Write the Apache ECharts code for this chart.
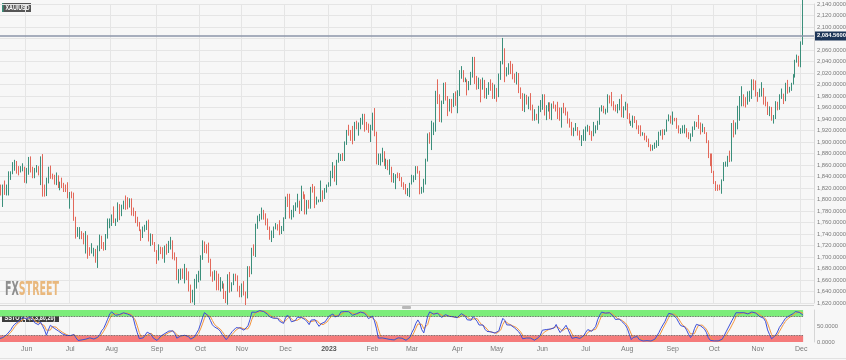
<!DOCTYPE html>
<html><head><meta charset="utf-8">
<script src="https://cdn.jsdelivr.net/npm/echarts/dist/echarts.min.js"></script>
<style>html,body{margin:0;padding:0;background:#f7f7f7}#c{width:846px;height:360px}</style>
</head><body><div id="c"></div><script>
// ---- DATA: daily XAU/USD candles [open, close, low, high] ----
const warmup2204 = [[1979,1950,1945,1983],[1950,1958,1940,1962],[1958,1951,1939,1962],[1951,1931,1928,1957],[1931,1898,1891,1936],[1898,1905,1893,1911],[1905,1886,1881,1909],[1886,1894,1872,1898],[1894,1896,1888,1920],[1896,1863,1850,1898],[1863,1868,1851,1872],[1868,1881,1866,1887],[1881,1876,1866,1909],[1876,1883,1868,1889],[1883,1854,1852,1885],[1854,1838,1833,1860],[1838,1852,1832,1858]];
const m2205 = [[1852,1821,1808,1858],[1822,1811,1807,1826],[1811,1824,1787,1826],[1824,1815,1808,1833],[1815,1816,1807,1826],[1816,1841,1807,1849],[1841,1846,1834,1849],[1846,1853,1844,1865],[1853,1866,1850,1869],[1866,1853,1845,1867],[1853,1851,1842,1858],[1851,1853,1847,1858],[1853,1855,1849,1863],[1855,1837,1829,1857]];
const m2206 = [[1837,1848,1828,1855],[1848,1869,1843,1874],[1869,1851,1847,1875],[1851,1841,1837,1857],[1841,1852,1837,1855],[1852,1853,1847,1860],[1853,1848,1842,1858],[1848,1871,1825,1875],[1871,1819,1805,1879],[1819,1809,1805,1826],[1809,1834,1806,1838],[1834,1857,1828,1857],[1857,1840,1836,1859],[1840,1838,1835,1845],[1838,1832,1826,1843],[1832,1838,1825,1847],[1838,1822,1820,1842],[1822,1827,1816,1831],[1827,1823,1820,1838],[1823,1820,1813,1829],[1820,1818,1813,1826],[1818,1807,1802,1830]];
const m2207 = [[1807,1811,1784,1813],[1811,1808,1802,1814],[1808,1764,1763,1812],[1764,1739,1732,1770],[1739,1741,1735,1752],[1741,1742,1731,1752],[1742,1734,1731,1745],[1734,1725,1722,1742],[1725,1735,1706,1745],[1735,1709,1697,1738],[1709,1708,1702,1717],[1708,1709,1706,1724],[1709,1711,1701,1716],[1711,1696,1690,1714],[1696,1719,1681,1720],[1719,1727,1710,1739],[1727,1719,1714,1737],[1719,1717,1711,1726],[1717,1735,1712,1740],[1735,1756,1732,1767],[1756,1765,1750,1767]];
const m2208 = [[1765,1772,1754,1774],[1772,1760,1759,1788],[1760,1765,1754,1767],[1765,1791,1761,1795],[1791,1775,1764,1792],[1775,1789,1771,1791],[1789,1794,1783,1798],[1794,1792,1782,1807],[1792,1789,1783,1804],[1789,1802,1786,1802],[1802,1779,1772,1802],[1779,1775,1771,1786],[1775,1761,1759,1780],[1761,1758,1753,1770],[1758,1747,1745,1761],[1747,1736,1728,1748],[1736,1748,1733,1753],[1748,1751,1744,1756],[1751,1758,1747,1763],[1758,1737,1727,1765],[1737,1738,1719,1741],[1738,1723,1721,1740],[1723,1711,1709,1726]];
const m2209 = [[1711,1697,1688,1712],[1697,1712,1694,1722],[1712,1710,1705,1718],[1710,1702,1697,1717],[1702,1718,1690,1720],[1718,1708,1704,1723],[1708,1717,1707,1728],[1717,1725,1713,1735],[1725,1702,1696,1729],[1702,1697,1694,1708],[1697,1665,1660,1700],[1665,1675,1654,1679],[1675,1675,1660,1680],[1675,1664,1662,1680],[1664,1674,1654,1688],[1674,1671,1660,1681],[1671,1644,1640,1675],[1644,1622,1620,1652],[1622,1629,1621,1643],[1629,1660,1615,1662],[1660,1660,1645,1670],[1660,1660,1656,1676]];
const m2210 = [[1660,1699,1659,1703],[1699,1725,1695,1729],[1725,1716,1707,1727],[1716,1712,1706,1722],[1712,1695,1690,1725],[1695,1668,1666,1697],[1668,1666,1657,1675],[1666,1673,1659,1677],[1673,1666,1642,1676],[1666,1644,1642,1671],[1644,1650,1640,1665],[1650,1652,1645,1658],[1652,1629,1627,1654],[1629,1627,1620,1641],[1627,1657,1617,1670],[1657,1649,1638,1674],[1649,1652,1640,1656],[1652,1665,1651,1671],[1665,1663,1658,1671],[1663,1645,1640,1668],[1645,1633,1630,1650]];
const m2211 = [[1633,1648,1630,1654],[1648,1635,1633,1658],[1635,1630,1616,1640],[1630,1681,1628,1684],[1681,1676,1665,1684],[1676,1712,1670,1716],[1712,1706,1702,1722],[1706,1755,1700,1758],[1755,1771,1749,1772],[1771,1771,1762,1775],[1771,1777,1765,1786],[1777,1774,1765,1782],[1774,1762,1755,1776],[1762,1751,1747,1767],[1751,1738,1730,1753],[1738,1740,1726,1746],[1740,1750,1733,1753],[1750,1755,1748,1759],[1755,1754,1746,1757],[1754,1741,1738,1764],[1741,1749,1740,1754],[1749,1768,1745,1769]];
const m2212 = [[1768,1803,1766,1805],[1803,1797,1787,1810],[1797,1769,1767,1810],[1769,1771,1765,1782],[1771,1787,1769,1790],[1787,1789,1780,1795],[1789,1797,1786,1810],[1797,1781,1775,1798],[1781,1810,1780,1824],[1810,1807,1801,1814],[1807,1777,1774,1809],[1777,1793,1774,1799],[1793,1788,1784,1799],[1788,1817,1784,1822],[1817,1813,1812,1827],[1813,1792,1785,1823],[1792,1798,1791,1805],[1798,1798,1795,1800],[1798,1814,1796,1833],[1814,1804,1796,1816],[1804,1815,1801,1820],[1815,1824,1812,1826]];
const m2301 = [[1824,1826,1822,1830],[1826,1839,1823,1850],[1839,1855,1837,1865],[1855,1833,1831,1859],[1833,1865,1825,1869],[1865,1872,1864,1881],[1872,1877,1867,1879],[1877,1876,1867,1881],[1876,1896,1867,1901],[1896,1920,1895,1921],[1920,1916,1911,1930],[1916,1908,1902,1921],[1908,1904,1896,1928],[1904,1932,1902,1935],[1932,1926,1922,1937],[1926,1931,1911,1934],[1931,1937,1922,1942],[1937,1946,1930,1949],[1946,1929,1918,1949],[1929,1928,1921,1935],[1928,1923,1916,1932],[1923,1928,1900,1930]];
const m2302 = [[1928,1951,1920,1951],[1951,1912,1910,1959],[1912,1865,1861,1918],[1865,1867,1860,1880],[1867,1873,1859,1880],[1873,1876,1865,1890],[1876,1861,1858,1884],[1861,1865,1853,1871],[1865,1854,1851,1869],[1854,1854,1843,1870],[1854,1836,1830,1857],[1836,1836,1829,1846],[1836,1842,1818,1844],[1842,1841,1837,1847],[1841,1835,1832,1846],[1835,1825,1822,1839],[1825,1822,1817,1830],[1822,1811,1809,1827],[1811,1817,1806,1820],[1817,1827,1804,1829]];
const m2303 = [[1827,1836,1826,1843],[1836,1836,1830,1842],[1836,1856,1834,1858],[1856,1847,1845,1858],[1847,1813,1809,1850],[1813,1814,1810,1822],[1814,1831,1812,1836],[1831,1868,1826,1871],[1868,1913,1866,1915],[1913,1904,1897,1917],[1904,1918,1886,1937],[1918,1919,1912,1934],[1919,1989,1918,1989],[1989,1978,1966,2009],[1978,1941,1935,1983],[1941,1969,1934,1972],[1969,1993,1966,2003],[1993,1978,1972,2004],[1978,1956,1945,1980],[1956,1973,1953,1975],[1973,1964,1950,1975],[1964,1980,1961,1985],[1980,1969,1963,1988]];
const m2304 = [[1969,1985,1950,1990],[1985,2020,1980,2025],[2020,2021,2010,2032],[2021,2008,2004,2025],[2008,2008,2004,2012],[2008,1990,1981,2009],[1990,2003,1990,2006],[2003,2015,1999,2022],[2015,2040,2012,2048],[2040,2004,2001,2048],[2004,1995,1991,2015],[1995,2007,1992,2012],[2007,1995,1969,2009],[1995,2004,1991,2012],[2004,1983,1976,2008],[1983,1990,1975,1994],[1990,1998,1982,2004],[1998,1994,1989,2009],[1994,1989,1975,2003],[1989,1990,1975,2000]];
const m2305 = [[1990,1983,1970,1994],[1983,2017,1978,2019],[2017,2039,2008,2041],[2039,2050,2035,2081],[2050,2016,2004,2063],[2016,2021,2014,2030],[2021,2034,2017,2037],[2034,2030,2018,2041],[2030,2015,2009,2036],[2015,2011,2003,2019],[2011,2017,2000,2022],[2017,1989,1985,2020],[1989,1982,1975,1995],[1982,1957,1954,1985],[1957,1978,1952,1984],[1978,1971,1965,1982],[1971,1975,1957,1979],[1975,1957,1955,1985],[1957,1941,1937,1965],[1941,1946,1937,1957],[1946,1943,1938,1949],[1943,1959,1932,1963],[1959,1962,1952,1973]];
const m2306 = [[1962,1978,1956,1983],[1978,1948,1946,1983],[1948,1962,1938,1964],[1962,1963,1953,1969],[1963,1940,1940,1969],[1940,1965,1938,1967],[1965,1961,1958,1971],[1961,1957,1953,1965],[1957,1943,1940,1970],[1943,1942,1937,1960],[1942,1958,1925,1960],[1958,1957,1950,1968],[1957,1951,1946,1960],[1951,1936,1932,1953],[1936,1932,1925,1941],[1932,1913,1911,1935],[1913,1921,1910,1925],[1921,1923,1919,1933],[1923,1914,1911,1926],[1914,1907,1903,1920],[1907,1908,1893,1912],[1908,1919,1902,1922]];
const m2307 = [[1919,1922,1902,1927],[1922,1926,1918,1930],[1926,1915,1912,1928],[1915,1911,1902,1919],[1911,1925,1910,1935],[1925,1925,1915,1929],[1925,1932,1921,1937],[1932,1957,1930,1960],[1957,1961,1953,1964],[1961,1955,1950,1963],[1955,1955,1948,1958],[1955,1979,1951,1983],[1979,1976,1967,1981],[1976,1969,1962,1987],[1969,1962,1955,1971],[1962,1954,1953,1965],[1954,1965,1950,1966],[1965,1972,1955,1975],[1972,1945,1943,1983],[1945,1959,1942,1962],[1959,1965,1955,1970]];
const m2308 = [[1965,1944,1940,1967],[1944,1934,1932,1950],[1934,1934,1928,1937],[1934,1943,1925,1946],[1943,1936,1933,1945],[1936,1925,1922,1938],[1925,1915,1914,1929],[1915,1912,1910,1929],[1912,1914,1911,1917],[1914,1907,1903,1916],[1907,1902,1900,1911],[1902,1892,1891,1906],[1892,1889,1884,1896],[1889,1889,1885,1895],[1889,1894,1888,1899],[1894,1898,1890,1903],[1898,1915,1893,1918],[1915,1917,1911,1921],[1917,1914,1904,1922],[1914,1920,1912,1922],[1920,1938,1918,1939],[1938,1942,1936,1948],[1942,1940,1932,1946]];
const m2309 = [[1940,1940,1930,1953],[1940,1938,1936,1942],[1938,1926,1923,1942],[1926,1916,1915,1929],[1916,1919,1914,1924],[1919,1919,1915,1929],[1919,1922,1915,1930],[1922,1913,1908,1924],[1913,1907,1905,1917],[1907,1910,1901,1915],[1910,1924,1909,1927],[1924,1934,1921,1936],[1934,1931,1926,1935],[1931,1930,1923,1947],[1930,1919,1913,1934],[1919,1925,1917,1932],[1925,1916,1914,1926],[1916,1901,1898,1917],[1901,1874,1872,1903],[1874,1864,1858,1880],[1864,1849,1846,1880]];
const m2310 = [[1849,1828,1827,1850],[1828,1822,1815,1832],[1822,1821,1815,1826],[1821,1820,1816,1826],[1820,1833,1810,1835],[1833,1861,1832,1865],[1861,1861,1857,1866],[1861,1874,1857,1876],[1874,1868,1865,1885],[1868,1933,1866,1933],[1933,1920,1908,1938],[1920,1923,1913,1934],[1923,1947,1922,1963],[1947,1974,1937,1980],[1974,1981,1962,1997],[1981,1973,1962,1983],[1973,1970,1960,1978],[1970,1979,1965,1988],[1979,1985,1970,1989],[1985,2006,1975,2009],[2006,1996,1990,2009],[1996,1983,1979,2007]];
const m2311 = [[1983,1982,1970,1987],[1982,1985,1978,1993],[1985,1992,1979,2004],[1992,1978,1965,1994],[1978,1969,1962,1979],[1969,1950,1947,1970],[1950,1958,1945,1962],[1958,1940,1937,1961],[1940,1946,1932,1947],[1946,1963,1940,1971],[1963,1959,1955,1970],[1959,1980,1956,1983],[1980,1981,1975,1993],[1981,1978,1966,1984],[1978,1998,1971,2003],[1998,1990,1984,2008],[1990,1992,1986,1996],[1992,2002,1989,2003],[2002,2014,2000,2018],[2014,2041,2012,2043],[2041,2044,2038,2052],[2044,2036,2031,2050]];
const m2312 = [[2036,2072,2030,2075],[2072,2084.56,2069,2148]];
const currentPrice = 2084.56;
const firstDate = '2022-05-12';
const padDays = 5;
const monthNames = ['Jan','Feb','Mar','Apr','May','Jun','Jul','Aug','Sep','Oct','Nov','Dec'];
const yTicks = {min:1620, max:2140, step:20};
const stochBands = {upper:80, lower:20};

// ---- build ----
const ohlc = [].concat(m2205,m2206,m2207,m2208,m2209,m2210,m2211,m2212,m2301,m2302,m2303,m2304,m2305,m2306,m2307,m2308,m2309,m2310,m2311,m2312);
const dates = [];
(function(){
  let d = new Date(firstDate + 'T00:00:00Z');
  while (dates.length < ohlc.length + padDays) {
    const wd = d.getUTCDay();
    if (wd !== 0 && wd !== 6) dates.push(d.toISOString().slice(0,10));
    d = new Date(d.getTime() + 86400000);
  }
})();
// slow stochastic (14,3,3) computed from the candles
const all = warmup2204.concat(ohlc);
const P = 14;
const rawK = all.map((d,i)=>{
  if (i < P-1) return null;
  let hh=-Infinity, ll=Infinity;
  for (let j=i-P+1;j<=i;j++){ hh=Math.max(hh,all[j][3]); ll=Math.min(ll,all[j][2]); }
  return hh===ll?50:100*(d[1]-ll)/(hh-ll);
});
function sma(arr,n){ return arr.map((v,i)=>{ if(i<n-1) return null; let s=0; for(let j=i-n+1;j<=i;j++){ if(arr[j]==null) return null; s+=arr[j]; } return s/n; }); }
const slowK = sma(rawK,3), slowD = sma(slowK,3);
const kLine = slowK.slice(warmup2204.length), dLine = slowD.slice(warmup2204.length);

function fmt4(v){ const s=Number(v).toFixed(4); const p=s.split('.'); return p[0].replace(/\B(?=(\d{3})+(?!\d))/g, ',')+'.'+p[1]; }
function isMonthStart(idx){ return idx>0 && dates[idx] && dates[idx].slice(5,7)!==dates[idx-1].slice(5,7); }

// pick a narrow font for the price scale if one is installed
const FONT='"Liberation Sans", Arial, sans-serif';
let AXFONT = FONT, AXSIZE = 5.8;
(function(){
  const ctx = document.createElement('canvas').getContext('2d');
  ctx.font = '20px monospace'; const w0 = ctx.measureText('2,140.0000').width;
  ctx.font = '20px "Liberation Sans Narrow", monospace'; const w1 = ctx.measureText('2,140.0000').width;
  if (Math.abs(w1 - w0) > 0.5) { AXFONT = '"Liberation Sans Narrow", "Liberation Sans", sans-serif'; AXSIZE = 6.8; }
})();

const UP='#3b8f7b', DOWN='#e2685a', GRIDC='#e5e5e5', LBL='#7a7a7a';
const lastIdx = ohlc.length-1;

const chart = echarts.init(document.getElementById('c'), null, {renderer:'canvas'});
chart.setOption({
  animation:false,
  backgroundColor:'#f7f7f7',
  textStyle:{fontFamily:FONT},
  grid:[
    {left:-2, right:32, top:4, height:299, containLabel:false, outerBoundsMode:'none'},
    {left:-2, right:32, top:310, height:32, containLabel:false, outerBoundsMode:'none'}
  ],
  xAxis:[
    {type:'category', gridIndex:0, data:dates, boundaryGap:true,
     axisLine:{show:false}, axisTick:{show:false}, axisLabel:{show:false},
     splitLine:{show:true, interval:(i)=>isMonthStart(i), lineStyle:{color:GRIDC, width:1}}},
    {type:'category', gridIndex:1, data:dates, boundaryGap:true,
     axisLine:{show:false}, axisTick:{show:false},
     axisLabel:{show:true, interval:(i)=>isMonthStart(i), fontSize:7, color:LBL, margin:4, fontFamily:FONT, hideOverlap:false,
       formatter:(v)=>{ const m=+v.slice(5,7)-1; return m===0?'{y|'+v.slice(0,4)+'}':monthNames[m]; },
       rich:{y:{fontSize:7, fontWeight:'bold', color:'#555', fontFamily:FONT}}},
     splitLine:{show:true, interval:(i)=>isMonthStart(i), lineStyle:{color:GRIDC, width:1}}}
  ],
  yAxis:[
    {type:'value', gridIndex:0, position:'right', min:yTicks.min, max:yTicks.max, interval:yTicks.step,
     axisLine:{show:true, lineStyle:{color:'#d6d6d6'}}, axisTick:{show:false},
     axisLabel:{fontSize:AXSIZE, color:LBL, margin:3, fontFamily:AXFONT, formatter:fmt4, hideOverlap:false},
     splitLine:{show:true, lineStyle:{color:GRIDC, width:1}}},
    {type:'value', gridIndex:1, position:'right', min:0, max:100, interval:50,
     axisLine:{show:true, lineStyle:{color:'#d6d6d6'}}, axisTick:{show:false},
     axisLabel:{fontSize:AXSIZE, color:LBL, margin:3, fontFamily:AXFONT, formatter:(v)=>v===100?'':fmt4(v)},
     splitLine:{show:false}}
  ],
  series:[
    {type:'candlestick', name:'XAU/USD', xAxisIndex:0, yAxisIndex:0, data:ohlc, clip:false,
     barWidth:'55%',
     itemStyle:{color:UP, color0:DOWN, borderColor:UP, borderColor0:DOWN, borderWidth:1},
     markLine:{silent:true, symbol:['none','none'],
       lineStyle:{color:'#8d96aa', width:1.5, type:'solid'},
       label:{show:true, position:'end', distance:1, formatter:()=>fmt4(currentPrice),
         color:'#fff', backgroundColor:'#1d3558', padding:[2,3,1,2], fontSize:AXSIZE, fontWeight:'bold', fontFamily:AXFONT},
       data:[{yAxis:currentPrice}]}},
    {type:'line', name:'%D', xAxisIndex:1, yAxisIndex:1, data:dLine, showSymbol:false, symbol:'none',
     lineStyle:{color:'#f2963f', width:1}, z:3,
     markLine:{silent:true, symbol:['none','none'], label:{show:false},
       lineStyle:{color:'#444', width:0.8, type:'dotted'},
       data:[
         [{coord:[dates[0],stochBands.upper]},{coord:[dates[lastIdx],stochBands.upper]}],
         [{coord:[dates[0],stochBands.lower]},{coord:[dates[lastIdx],stochBands.lower]}]
       ]}},
    {type:'line', name:'%K', xAxisIndex:1, yAxisIndex:1, data:kLine, showSymbol:false, symbol:'none',
     lineStyle:{color:'#3c4fd8', width:1}, z:4,
     markArea:{silent:true,
       data:[
         [{xAxis:dates[0], yAxis:stochBands.upper, itemStyle:{color:'#7ced7a'}},{xAxis:dates[lastIdx], yAxis:100}],
         [{xAxis:dates[0], yAxis:0, itemStyle:{color:'#f57b7b'}},{xAxis:dates[lastIdx], yAxis:stochBands.lower}]
       ]}}
  ],
  graphic:[
    {type:'line', shape:{x1:0,y1:305.5,x2:814,y2:305.5}, style:{stroke:'#d2d2d2', lineWidth:1}, z:10},
    {type:'rect', shape:{x:402,y:306,width:9,height:3,r:1}, style:{fill:'#b8b8b8'}, z:11},
    {type:'line', shape:{x1:0,y1:358.5,x2:846,y2:358.5}, style:{stroke:'#e2e2e2', lineWidth:1}, z:10},
    {type:'group', x:2, y:3, z:20, children:[
      {type:'rect', shape:{x:0,y:0,width:29,height:9}, style:{fill:'#555'}},
      {type:'rect', shape:{x:0,y:0,width:1.5,height:9}, style:{fill:'#3b8f7b'}},
      {type:'text', x:3.5, y:4.8, scaleX:0.82, style:{text:'XAU/USD', fill:'#fff', fontSize:6.5, fontWeight:'bold', fontFamily:FONT, verticalAlign:'middle'}}
    ]},
    {type:'group', x:2, y:313, z:20, children:[
      {type:'rect', shape:{x:0,y:0,width:57,height:9}, style:{fill:'#3d3d3d'}},
      {type:'text', x:2.5, y:4.8, scaleX:0.85, style:{text:'SSTO (14,3,3,80,20)', fill:'#fff', fontSize:6.5, fontWeight:'bold', fontFamily:FONT, verticalAlign:'middle'}}
    ]},
    {type:'text', x:5, y:290, scaleX:0.5, z:20,
     style:{text:'{a|FX}{b|STREET}', verticalAlign:'middle', fontFamily:'"DejaVu Sans", sans-serif', fontSize:19, fontWeight:'bold',
       rich:{a:{fill:'#8e8e8e', fontSize:19, fontWeight:'bold', fontFamily:'"DejaVu Sans", sans-serif'},
             b:{fill:'#e9b87d', fontSize:19, fontWeight:'bold', fontFamily:'"DejaVu Sans", sans-serif'}}}}
  ]
});
</script></body></html>
